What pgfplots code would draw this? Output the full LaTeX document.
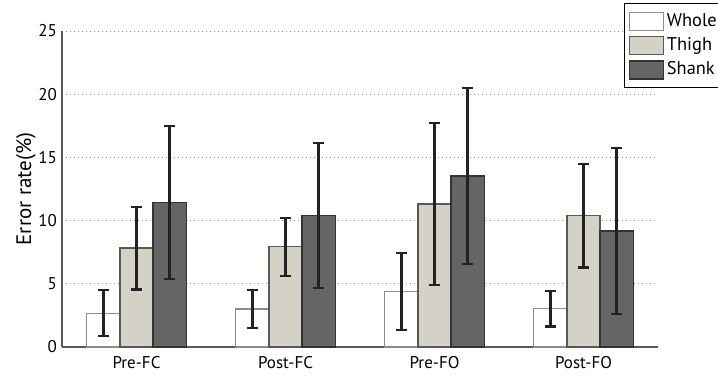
\documentclass[border=0pt]{standalone}
\usepackage{pgfplots}
\pgfplotsset{compat=1.18}
\usepackage{pgfplotstable}
\usepackage{fontspec}
\setmainfont{PT Sans}

\definecolor{thighfill}{HTML}{D4D1C6}
\definecolor{shankfill}{HTML}{666566}
\definecolor{errc}{HTML}{222222}

\pgfplotstableread{
x whole ew thigh et shank es
1 2.68 1.81 7.83 3.27 11.43 6.05
2 3.00 1.52 7.92 2.30 10.42 5.73
3 4.40 3.06 11.31 6.41 13.53 6.94
4 3.03 1.42 10.40 4.10 9.18 6.55
}\datatable

\begin{document}
\begin{tikzpicture}[x=1pt,y=1pt,font=\fontsize{8.5}{10}\selectfont]
\useasboundingbox (0,0) rectangle (359,188);
\clip (0,0) rectangle (359,188);
\begin{axis}[
  at={(31pt,14.5pt)}, anchor=south west,
  scale only axis, width=298pt, height=158pt,
  ybar=0pt, bar width=0.222,
  xmin=0.5, xmax=4.5, ymin=0, ymax=25,
  xtick={1,2,3,4}, xticklabels={Pre-FC,Post-FC,Pre-FO,Post-FO},
  ytick={0,5,10,15,20,25},
  major tick length=0pt,
  /pgf/number format/assume math mode=true,
  axis x line*=bottom, axis y line*=left,
  axis line style={draw=black!65, line width=0.6pt},
  ymajorgrids,
  grid style={draw=black!45, line width=0.5pt, dash pattern=on 0.4pt off 1.6pt},
  ylabel={Error rate(\%)},
  ylabel style={font=\fontsize{10.5}{12}\selectfont, yshift=-5.5pt},
  yticklabel style={xshift=1pt},
  xticklabel style={yshift=-1pt},
  legend cell align=left,
  legend style={at={(0.943,1.089)}, anchor=north west, draw=black, line width=0.5pt,
    font=\fontsize{9.2}{11}\selectfont,
    inner xsep=2pt, inner ysep=2.8pt, row sep=0pt,
    nodes={inner sep=1.6pt, text height=7pt, text depth=2pt}},
  error bars/y dir=both, error bars/y explicit,
  error bars/error bar style={draw=errc, line width=1.2pt},
  error bars/error mark options={draw=errc, line width=1.2pt, mark size=2.6pt, rotate=90},
]
\addplot[bar shift=-0.222, fill=white, draw=black!45, line width=0.6pt,
  legend image code/.code={\draw[fill=white, draw=black!45, line width=0.6pt] (0pt,-4.5pt) rectangle (17pt,4.5pt);}]
  table[x=x, y=whole, y error=ew] {\datatable};
\addlegendentry{Whole}
\addplot[bar shift=0, fill=thighfill, draw=black!65, line width=0.6pt,
  legend image code/.code={\draw[fill=thighfill, draw=black!65, line width=0.6pt] (0pt,-4.5pt) rectangle (17pt,4.5pt);}]
  table[x=x, y=thigh, y error=et] {\datatable};
\addlegendentry{Thigh}
\addplot[bar shift=0.222, fill=shankfill, draw=black!80, line width=0.6pt,
  legend image code/.code={\draw[fill=shankfill, draw=black!80, line width=0.6pt] (0pt,-4.5pt) rectangle (17pt,4.5pt);}]
  table[x=x, y=shank, y error=es] {\datatable};
\addlegendentry{Shank}
\end{axis}
\end{tikzpicture}
\end{document}
